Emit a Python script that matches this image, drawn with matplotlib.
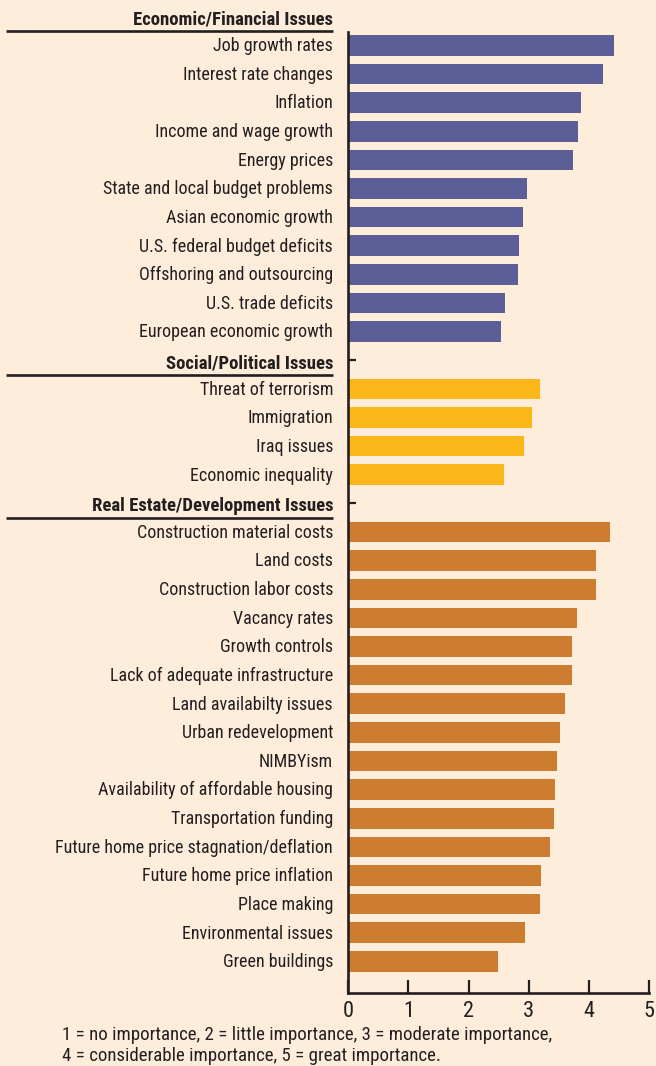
import matplotlib
matplotlib.use("Agg")
import matplotlib.pyplot as plt

plt.rcParams['font.family'] = ['Roboto Condensed', 'Archivo Narrow', 'PT Sans Narrow',
                               'Liberation Sans', 'DejaVu Sans']

econ_labels = ["Job growth rates", "Interest rate changes", "Inflation", "Income and wage growth",
               "Energy prices", "State and local budget problems", "Asian economic growth",
               "U.S. federal budget deficits", "Offshoring and outsourcing", "U.S. trade deficits",
               "European economic growth"]
econ_values = [4.42, 4.24, 3.87, 3.82, 3.74, 2.97, 2.91, 2.84, 2.82, 2.61, 2.54]

social_labels = ["Threat of terrorism", "Immigration", "Iraq issues", "Economic inequality"]
social_values = [3.19, 3.06, 2.92, 2.59]

re_labels = ["Construction material costs", "Land costs", "Construction labor costs", "Vacancy rates",
             "Growth controls", "Lack of adequate infrastructure", "Land availabilty issues",
             "Urban redevelopment", "NIMBYism", "Availability of affordable housing",
             "Transportation funding", "Future home price stagnation/deflation",
             "Future home price inflation", "Place making", "Environmental issues", "Green buildings"]
re_values = [4.35, 4.12, 4.12, 3.81, 3.72, 3.72, 3.61, 3.52, 3.47, 3.44, 3.42, 3.36, 3.21, 3.19,
             2.94, 2.49]

headers = ["Economic/Financial Issues", "Social/Political Issues", "Real Estate/Development Issues"]
x_ticks = [0, 1, 2, 3, 4, 5]
note_lines = ["1 = no importance, 2 = little importance, 3 = moderate importance,",
              "4 = considerable importance, 5 = great importance."]

BG = "#FEEDDB"
DARK = "#231F20"
colors = ["#5C5E97", "#FBB719", "#CD7D2F"]

W, H = 656, 1066
fig = plt.figure(figsize=(W / 100, H / 100), dpi=100, facecolor=BG)

x0_px, unit_px = 348.3, 60.1
y0_px, row_px = 16.7, 28.625
top_px, bot_px = 31.7, 993.0
left = x0_px / W
width = 5 * unit_px / W
ax = fig.add_axes([left, 1 - bot_px / H, width, (bot_px - top_px) / H])
ax.set_facecolor(BG)
ax.set_xlim(0, 5)
ymax = (bot_px - y0_px) / row_px
ymin = (top_px - y0_px) / row_px
ax.set_ylim(ymax, ymin)

groups = [(econ_labels, econ_values), (social_labels, social_values), (re_labels, re_values)]
label_x = (333 - x0_px) / unit_px
line_x0 = (6 - x0_px) / unit_px
idx = 0
header_rows = []
for g, (labels, values) in enumerate(groups):
    header_rows.append(idx)
    ax.text(label_x, idx + 0.1, headers[g], ha='right', va='center', fontsize=13.5,
            fontweight='bold', color=DARK, clip_on=False)
    ax.plot([line_x0, label_x], [idx + 0.5, idx + 0.5], color=DARK, lw=1.9,
            clip_on=False, solid_capstyle='butt')
    idx += 1
    rows = list(range(idx, idx + len(labels)))
    ax.barh(rows, values, height=0.72, color=colors[g], left=0)
    for r, lab in zip(rows, labels):
        ax.text(label_x, r + 0.03, lab, ha='right', va='center', fontsize=13.0, color=DARK,
                clip_on=False)
    idx += len(labels)

for s in ['top', 'right']:
    ax.spines[s].set_visible(False)
for s in ['left', 'bottom']:
    ax.spines[s].set_color(DARK)
    ax.spines[s].set_linewidth(1.9)

ax.set_yticks(header_rows[1:])
ax.set_yticklabels([])
ax.tick_params(axis='y', direction='in', length=6, width=1.6, color=DARK)
ax.set_xticks(x_ticks)
ax.set_xticklabels([str(t) for t in x_ticks])
ax.tick_params(axis='x', direction='in', length=9.5, width=1.6, color=DARK,
               labelsize=16, pad=6, labelcolor=DARK)

fig.text(62 / W, 1 - 1035 / H, note_lines[0], ha='left', va='center', fontsize=13.6, color=DARK)
fig.text(62 / W, 1 - 1056 / H, note_lines[1], ha='left', va='center', fontsize=13.6, color=DARK)

fig.savefig("out.png", dpi=100, facecolor=BG)
